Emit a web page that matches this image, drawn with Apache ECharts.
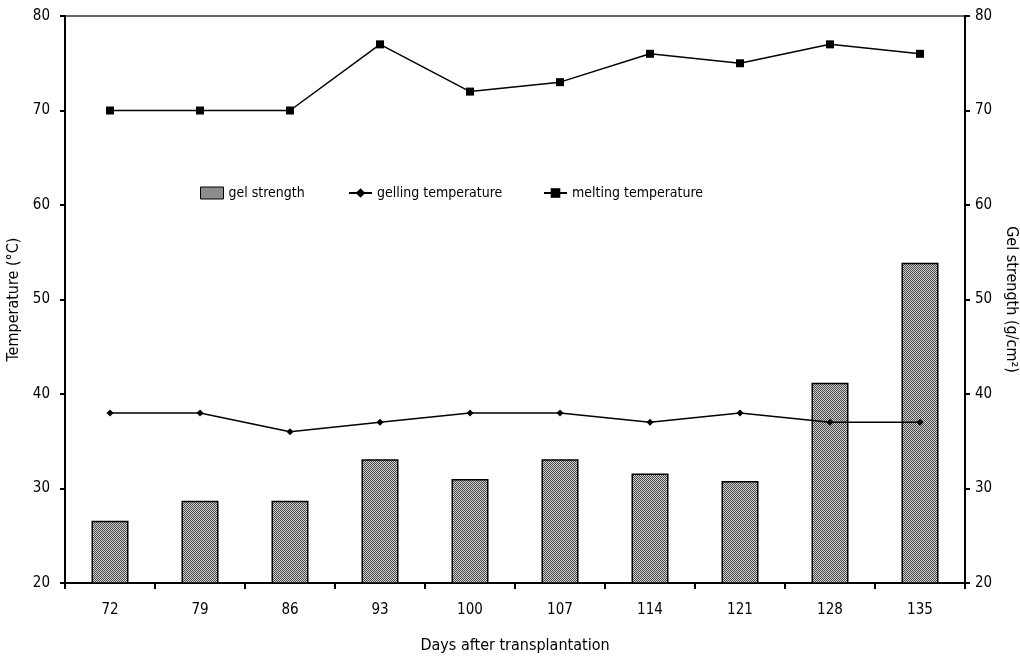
<!DOCTYPE html>
<html>
<head>
<meta charset="utf-8">
<script src="https://cdn.jsdelivr.net/npm/echarts@6/dist/echarts.min.js"></script>
<style>html,body{margin:0;padding:0;background:#fff;}#c{width:1020px;height:659px;}</style>
</head>
<body>
<div id="c"></div>
<script>
const days = ['72','79','86','93','100','107','114','121','128','135'];
const gelStrength = [26.6, 28.7, 28.7, 33.1, 31.0, 33.1, 31.6, 30.8, 41.2, 53.9];
const gellingTemp = [38, 38, 36, 37, 38, 38, 37, 38, 37, 37];
const meltingTemp = [70, 70, 70, 77, 72, 73, 76, 75, 77, 76];
const yTicks = [20, 30, 40, 50, 60, 70, 80];

const pc = document.createElement('canvas');
pc.width = 2; pc.height = 2;
const px = pc.getContext('2d');
px.fillStyle = '#cfcfcf'; px.fillRect(0,0,2,2);
px.fillStyle = '#4a4a4a'; px.fillRect(0,0,1,1); px.fillRect(1,1,1,1);
const pattern = {image: pc, repeat: 'repeat'};

const FONT = 'DejaVu Sans Condensed, DejaVu Sans, Arial, sans-serif';
const tickTxt = {color:'#000', fontFamily: FONT, fontSize: 15};
const nameTxt = {color:'#000', fontFamily: FONT, fontSize: 16};
const legTxt = {color:'#000', fontFamily: FONT, fontSize: 14};

const chart = echarts.init(document.getElementById('c'), null, {renderer:'canvas'});
const yCommon = {
  type:'value', min: yTicks[0], max: yTicks[yTicks.length-1], interval: 10,
  splitLine:{show:false},
  axisLine:{show:true, lineStyle:{color:'#000', width:2}},
  axisTick:{show:true, inside:false, length:5, lineStyle:{color:'#000', width:2}},
  nameLocation:'middle',
  nameTextStyle:{...nameTxt}
};
chart.setOption({
  animation:false,
  backgroundColor:'#fff',
  grid:{left:65, right:55, top:16, bottom:76, outerBoundsMode:'none', containLabel:false,
        show:true, borderColor:'#333', borderWidth:1.5, backgroundColor:'transparent'},
  legend:[
    {data:[{name:'gel strength', icon:'rect', itemStyle:{color:pattern, borderColor:'#000', borderWidth:1}}],
     left:195, top:181, itemWidth:23, itemHeight:12, textStyle:{...legTxt}},
    {data:['gelling temperature'], left:343, top:181, itemWidth:23, itemHeight:12, textStyle:{...legTxt}},
    {data:['melting temperature'], left:538, top:181, itemWidth:23, itemHeight:12, textStyle:{...legTxt}}
  ],
  xAxis:{
    type:'category', data: days,
    axisLine:{lineStyle:{color:'#000', width:2}},
    axisTick:{show:true, alignWithLabel:false, length:6, lineStyle:{color:'#000', width:2}},
    axisLabel:{...tickTxt, margin:20},
    name:'Days after transplantation', nameLocation:'middle', nameGap:55,
    nameTextStyle:{...nameTxt}
  },
  yAxis:[
    {...yCommon, position:'left', name:'Temperature (°C)', nameGap:39, nameRotate:90,
     axisLabel:{...tickTxt, margin:15}},
    {...yCommon, position:'right', name:'Gel strength (g/cm²)', nameGap:35, nameRotate:-90,
     axisLabel:{...tickTxt, margin:10}}
  ],
  series:[
    {name:'gel strength', type:'bar', yAxisIndex:1, data: gelStrength, barWidth:37,
     itemStyle:{color: pattern, borderColor:'#000', borderWidth:1.5}},
    {name:'gelling temperature', type:'line', yAxisIndex:0, data: gellingTemp,
     symbol:'diamond', symbolSize:7, showSymbol:true,
     lineStyle:{color:'#000', width:1.5}, itemStyle:{color:'#000'}},
    {name:'melting temperature', type:'line', yAxisIndex:0, data: meltingTemp,
     symbol:'rect', symbolSize:8, showSymbol:true,
     lineStyle:{color:'#000', width:1.5}, itemStyle:{color:'#000'}}
  ]
});
</script>
</body>
</html>
